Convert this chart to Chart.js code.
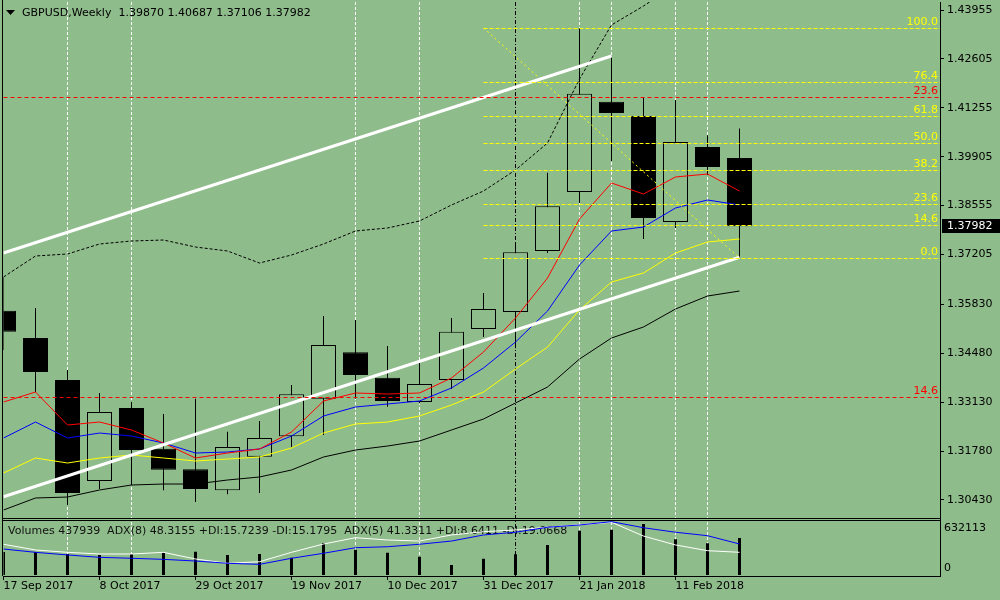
<!DOCTYPE html>
<html>
<head>
<meta charset="utf-8">
<title>GBPUSD Weekly</title>
<script src="https://cdn.jsdelivr.net/npm/chart.js@4.4.1/dist/chart.umd.min.js"></script>
<style>
    html, body { margin: 0; padding: 0; background: #8fbc8b; }
    #wrap { width: 1000px; height: 600px; }
</style>
</head>
<body>
<div id="wrap"><canvas id="myChart" width="1000" height="600"></canvas></div>
<script>
'use strict';

// weekly bars, 17 Sep 2017 .. 25 Feb 2018
var dateLabels = ['17 Sep 2017', '8 Oct 2017', '29 Oct 2017', '19 Nov 2017', '10 Dec 2017', '31 Dec 2017', '21 Jan 2018', '11 Feb 2018'];
var dateTickIdx = [0, 3, 6, 9, 12, 15, 18, 21];

var opens  = [1.3565, 1.3490, 1.3374, 1.3095, 1.3297, 1.3184, 1.3128, 1.3070, 1.3162, 1.3219, 1.3322, 1.3451,
              1.3380, 1.3313, 1.3374, 1.3515, 1.3562, 1.3730, 1.3893, 1.4142, 1.4103, 1.3810, 1.4017, 1.39870];
var highs  = [1.3658, 1.3573, 1.3402, 1.3338, 1.3313, 1.3280, 1.3322, 1.3231, 1.3261, 1.3360, 1.3551, 1.3540,
              1.3468, 1.3421, 1.3545, 1.3614, 1.3752, 1.3946, 1.4346, 1.4266, 1.4153, 1.4147, 1.4050, 1.40687];
var lows   = [1.3457, 1.3341, 1.3029, 1.3073, 1.3084, 1.3070, 1.3037, 1.3059, 1.3062, 1.3189, 1.3222, 1.3322,
              1.3300, 1.3310, 1.3349, 1.3493, 1.3462, 1.3725, 1.3863, 1.3979, 1.3763, 1.3794, 1.3940, 1.37106];
var closes = [1.3507, 1.3396, 1.3062, 1.3286, 1.3181, 1.3126, 1.3073, 1.3189, 1.3214, 1.3335, 1.3471, 1.3388,
              1.3316, 1.3363, 1.3507, 1.3570, 1.3727, 1.3854, 1.4164, 1.4111, 1.3821, 1.4031, 1.3962, 1.37982];

var maRed    = [1.33133, 1.33409, 1.32498, 1.32581, 1.32360, 1.32001, 1.31587, 1.31725, 1.31836, 1.32305, 1.33161, 1.33382,
                1.33354, 1.33382, 1.33796, 1.34513, 1.35452, 1.36556, 1.38185, 1.39179, 1.38875, 1.39345, 1.39427, 1.38958];
var maBlue   = [1.32139, 1.32581, 1.32139, 1.32277, 1.32194, 1.32001, 1.31725, 1.31753, 1.31836, 1.32194, 1.32747, 1.32995,
                1.33078, 1.33161, 1.33520, 1.34072, 1.34789, 1.35645, 1.36915, 1.37854, 1.37964, 1.38489, 1.38710, 1.38572];
var maYellow = [1.31173, 1.31587, 1.31449, 1.31587, 1.31670, 1.31587, 1.31504, 1.31559, 1.31615, 1.31863, 1.32277, 1.32526,
                1.32581, 1.32747, 1.33050, 1.33409, 1.34044, 1.34651, 1.35673, 1.36446, 1.36694, 1.37246, 1.37550, 1.37633];
var maBlack  = [1.30151, 1.30483, 1.30510, 1.30704, 1.30842, 1.30869, 1.30869, 1.30980, 1.31063, 1.31256, 1.31615, 1.31808,
                1.31918, 1.32056, 1.32360, 1.32664, 1.33105, 1.33547, 1.34320, 1.34900, 1.35204, 1.35701, 1.36059, 1.36197];
var bandUpper = [1.36584, 1.37164, 1.37219, 1.37495, 1.37578, 1.37605, 1.37412, 1.37302, 1.36970, 1.37191, 1.37495, 1.37854,
                 1.37937, 1.38130, 1.38572, 1.38958, 1.39538, 1.40283, 1.42050, 1.43541, 1.44065, 1.44650];

var volumes = [272000, 272000, 248600, 236700, 248600, 264000, 275800, 236700, 248600, 204800, 378800, 299500,
               264000, 216600, 118400, 192900, 245000, 355000, 524300, 536200, 603600, 422500, 375200, 437939];
var adx8 = [44.1, 41.3, 39.1, 37.1, 36.3, 35.4, 34.0, 32.1, 31.2, 36.3, 40.5, 45.2,
            46.0, 48.1, 50.8, 55.9, 58.2, 62.4, 64.3, 67.1, 62.0, 58.2, 55.3, 48.3155];
var adx5 = [48.1, 43.3, 41.3, 39.9, 39.9, 41.3, 35.7, 32.1, 33.4, 41.3, 48.3, 53.6,
            51.7, 50.8, 55.9, 58.7, 60.1, 62.4, 64.5, 66.6, 55.0, 47.5, 42.7, 41.3311];

// trend lines: [startIdx, startPrice, endIdx, endPrice]
var trendUpper = [0, 1.37247, 19, 1.42685];
var trendLower = [0, 1.30519, 23, 1.37128];

// fibonacci from the 21 Jan high to the 25 Feb low
var fibHigh = 1.43458;
var fibLow = 1.37106;
var fibStartIdx = 15;
var fibEndIdx = 23;
var fibLevels = [100.0, 76.4, 61.8, 50.0, 38.2, 23.6, 14.6, 0.0];
var redLevelLabels = ['23.6', '14.6'];
var redLevelPrices = [1.41545, 1.33279];

var priceTicks = [1.43955, 1.42605, 1.41255, 1.39905, 1.38555, 1.37205, 1.35830, 1.34480, 1.33130, 1.31780, 1.30430];
var volTicks = [632113, 0];
var gridIdx = [2, 4, 11, 13, 18, 19, 21, 22];
var separatorIdx = 16;

var headerText = 'GBPUSD,Weekly  1.39870 1.40687 1.37106 1.37982';
var subText = 'Volumes 437939  ADX(8) 48.3155 +DI:15.7239 -DI:15.1795  ADX(5) 41.3311 +DI:8.6411 -DI:19.0668';

var bgColor = '#8fbc8b';

function pts(arr) {
    return arr.map(function (v, i) { return {x: i, y: v}; });
}
function seg(t) {
    return [{x: t[0], y: t[1]}, {x: t[2], y: t[3]}];
}
function noPad(s) {
    s.paddingTop = 0;
    s.paddingBottom = 0;
    s.paddingLeft = 0;
    s.paddingRight = 0;
}

var bodyColors = opens.map(function (o, i) { return closes[i] >= o ? bgColor : '#000'; });

var mtDecor = {
    id: 'mtDecor',
    beforeDraw: function (chart) {
        var c = chart.ctx;
        c.save();
        c.fillStyle = bgColor;
        c.fillRect(0, 0, chart.width, chart.height);
        c.restore();
    },
    beforeDatasetsDraw: function (chart) {
        var c = chart.ctx, xs = chart.scales.x, area = chart.chartArea, vs = chart.scales.yv;
        c.save();
        c.lineWidth = 1;
        c.strokeStyle = '#ffffff';
        c.setLineDash([3, 2]);
        gridIdx.forEach(function (i) {
            var px = Math.floor(xs.getPixelForValue(i)) + 0.5;
            c.beginPath();
            c.moveTo(px, area.top);
            c.lineTo(px, area.bottom);
            c.stroke();
        });
        c.strokeStyle = '#000';
        c.setLineDash([4, 2, 1, 2]);
        var sx = Math.floor(xs.getPixelForValue(separatorIdx)) + 0.5;
        c.beginPath();
        c.moveTo(sx, area.top);
        c.lineTo(sx, area.bottom);
        c.stroke();

        c.setLineDash([]);
        c.fillStyle = '#111';
        c.font = '11px "DejaVu Sans"';
        c.textBaseline = 'middle';
        c.textAlign = 'left';
        c.fillText(subText, 8, vs.top + 13);
        c.restore();
    },
    afterDatasetsDraw: function (chart) {
        var c = chart.ctx, xs = chart.scales.x, ys = chart.scales.y, area = chart.chartArea;
        var x0 = xs.getPixelForValue(fibStartIdx);
        c.save();
        c.lineWidth = 1;
        c.font = '11px "DejaVu Sans"';
        c.textAlign = 'right';
        c.textBaseline = 'bottom';

        fibLevels.forEach(function (lv) {
            var py = Math.round(ys.getPixelForValue(fibLow + (fibHigh - fibLow) * lv / 100)) + 0.5;
            c.strokeStyle = '#ffff00';
            c.setLineDash([4, 2]);
            c.beginPath();
            c.moveTo(x0, py);
            c.lineTo(area.right, py);
            c.stroke();
            c.fillStyle = '#ffff00';
            c.fillText(lv.toFixed(1), area.right - 2, py - 1);
        });
        redLevelPrices.forEach(function (p, k) {
            var py = Math.round(ys.getPixelForValue(p)) + 0.5;
            c.strokeStyle = '#ff0000';
            c.setLineDash([4, 3]);
            c.beginPath();
            c.moveTo(area.left, py);
            c.lineTo(area.right, py);
            c.stroke();
            c.fillStyle = '#ff0000';
            c.fillText(redLevelLabels[k], area.right - 2, py - 1);
        });
        c.restore();
    },
    afterDraw: function (chart) {
        var c = chart.ctx, ys = chart.scales.y, vs = chart.scales.yv, area = chart.chartArea;
        c.save();
        // panel frames
        c.strokeStyle = '#000';
        c.lineWidth = 1;
        c.fillStyle = bgColor;
        c.fillRect(area.left, ys.bottom + 1, area.right - area.left, 1);
        c.beginPath();
        c.moveTo(2.5, 0);
        c.lineTo(2.5, area.bottom);
        c.moveTo(2, ys.bottom + 0.5);
        c.lineTo(area.right, ys.bottom + 0.5);
        c.moveTo(2, vs.top + 2.5);
        c.lineTo(area.right, vs.top + 2.5);
        c.stroke();

        // header
        c.fillStyle = '#000';
        c.beginPath();
        c.moveTo(6, 10);
        c.lineTo(15, 10);
        c.lineTo(10.5, 15);
        c.closePath();
        c.fill();
        c.font = '11px "DejaVu Sans"';
        c.textAlign = 'left';
        c.textBaseline = 'middle';
        c.fillText(headerText, 22, 13);

        // last price box
        var last = closes[closes.length - 1];
        var py = Math.round(ys.getPixelForValue(last));
        c.fillStyle = '#000';
        c.fillRect(area.right + 2, py - 7, 58, 14);
        c.fillStyle = '#ffffff';
        c.fillText(last.toFixed(5), 947, py);
        c.restore();
    }
};

Chart.defaults.font.family = 'DejaVu Sans';
Chart.defaults.font.size = 11;
Chart.defaults.color = '#000';

var ctx = document.getElementById('myChart');
var myChart = new Chart(ctx, {
    type: 'line',
    plugins: [mtDecor],
    data: {
        datasets: [{
                label: 'MA red',
                data: pts(maRed),
                borderColor: '#ff0000',
                borderWidth: 1,
                pointRadius: 0,
                yAxisID: 'y',
                order: 1
            }, {
                label: 'MA blue',
                data: pts(maBlue),
                borderColor: '#0000ff',
                borderWidth: 1,
                pointRadius: 0,
                yAxisID: 'y',
                order: 1
            }, {
                label: 'MA yellow',
                data: pts(maYellow),
                borderColor: '#ffff00',
                borderWidth: 1,
                pointRadius: 0,
                yAxisID: 'y',
                order: 1
            }, {
                label: 'MA black',
                data: pts(maBlack),
                borderColor: '#000',
                borderWidth: 1,
                pointRadius: 0,
                yAxisID: 'y',
                order: 1
            }, {
                label: 'Upper band',
                data: pts(bandUpper),
                borderColor: '#000',
                borderWidth: 1,
                borderDash: [3, 2],
                pointRadius: 0,
                yAxisID: 'y',
                order: 1
            }, {
                label: 'Trend upper',
                data: seg(trendUpper),
                borderColor: '#ffffff',
                borderWidth: 3,
                pointRadius: 0,
                yAxisID: 'y',
                order: 0
            }, {
                label: 'Trend lower',
                data: seg(trendLower),
                borderColor: '#ffffff',
                borderWidth: 3,
                pointRadius: 0,
                yAxisID: 'y',
                order: 0
            }, {
                label: 'Fibo line',
                data: [{x: fibStartIdx, y: fibHigh}, {x: fibEndIdx, y: fibLow}],
                borderColor: '#ffff00',
                borderWidth: 1,
                borderDash: [2, 3],
                pointRadius: 0,
                yAxisID: 'y',
                order: 0
            }, {
                type: 'bar',
                label: 'Bodies',
                data: opens.map(function (o, i) { return {x: i, y: [o, closes[i]]}; }),
                backgroundColor: bodyColors,
                borderColor: '#000',
                borderWidth: 1,
                borderSkipped: false,
                inflateAmount: 0,
                barThickness: 25,
                grouped: false,
                yAxisID: 'y',
                order: 8
            }, {
                type: 'bar',
                label: 'Wicks',
                data: lows.map(function (l, i) { return {x: i, y: [l, highs[i]]}; }),
                backgroundColor: '#000',
                inflateAmount: 0,
                barThickness: 1,
                grouped: false,
                yAxisID: 'y',
                order: 9
            }, {
                type: 'bar',
                label: 'Volumes',
                data: pts(volumes),
                backgroundColor: '#000',
                inflateAmount: 0,
                barThickness: 3,
                grouped: false,
                yAxisID: 'yv',
                order: 9
            }, {
                label: 'ADX(8)',
                data: pts(adx8),
                borderColor: '#0000ff',
                borderWidth: 1,
                pointRadius: 0,
                yAxisID: 'ya',
                order: 2
            }, {
                label: 'ADX(5)',
                data: pts(adx5),
                borderColor: '#ffffff',
                borderWidth: 1,
                pointRadius: 0,
                yAxisID: 'ya',
                order: 2
            }
        ]
    },
    options: {
        responsive: false,
        animation: false,
        layout: {padding: {left: 3.5, top: 2, right: 0, bottom: 0}},
        plugins: {
            legend: {display: false},
            tooltip: {enabled: false}
        },
        scales: {
            x: {
                type: 'linear',
                min: 0,
                max: 29.265625,
                offset: false,
                afterBuildTicks: function (s) {
                    s.ticks = dateTickIdx.map(function (v) { return {value: v}; });
                },
                afterFit: function (s) { s.height = 24; noPad(s); },
                ticks: {
                    autoSkip: false,
                    maxRotation: 0,
                    align: 'start',
                    padding: 0,
                    callback: function (v, i) { return dateLabels[i]; }
                },
                grid: {drawOnChartArea: false, offset: false, tickLength: 4, color: '#000'},
                border: {display: true, color: '#000'}
            },
            y: {
                position: 'right',
                stack: 'panes',
                stackWeight: 516,
                min: 1.29931,
                max: 1.44176,
                afterBuildTicks: function (s) {
                    s.ticks = priceTicks.map(function (v) { return {value: v}; });
                },
                afterFit: function (s) { s.width = 60; noPad(s); },
                ticks: {
                    autoSkip: false,
                    padding: 3,
                    callback: function (v) { return v.toFixed(5); }
                },
                grid: {drawOnChartArea: false, tickLength: 4, color: '#000'},
                border: {display: true, color: '#000'}
            },
            yv: {
                position: 'right',
                stack: 'panes',
                stackWeight: 58,
                min: -11836,
                max: 674660,
                afterBuildTicks: function (s) {
                    s.ticks = volTicks.map(function (v) { return {value: v}; });
                },
                afterFit: function (s) { s.width = 60; noPad(s); },
                ticks: {
                    autoSkip: false,
                    padding: 4,
                    callback: function (v) { return v > 0 ? ['', String(v)] : [String(v), '']; }
                },
                grid: {display: false, drawTicks: false},
                border: {display: true, color: '#000'}
            },
            ya: {
                display: false,
                min: 21.40,
                max: 504.14,
                afterFit: noPad
            }
        }
    }
});
</script>
</body>
</html>
